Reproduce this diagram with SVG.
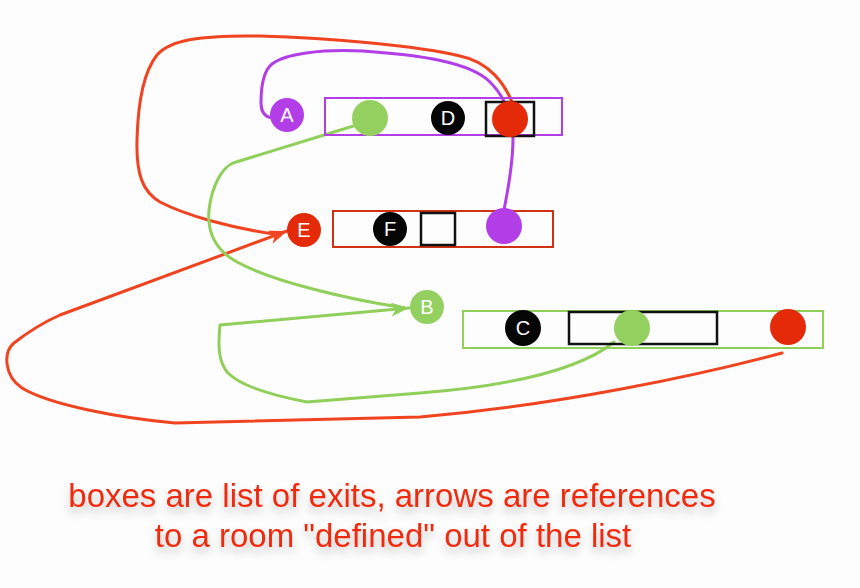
<svg xmlns="http://www.w3.org/2000/svg" width="860" height="588" viewBox="0 0 860 588">
  <defs>
    <marker id="arrRed" viewBox="0 0 18 14" refX="18" refY="7" markerWidth="18" markerHeight="14" markerUnits="userSpaceOnUse" orient="auto">
      <path d="M0,0 L18,7 L0,14 L5,7 z" fill="#f04420"/>
    </marker>
    <marker id="arrGreen" viewBox="0 0 18 14" refX="18" refY="7" markerWidth="18" markerHeight="14" markerUnits="userSpaceOnUse" orient="auto">
      <path d="M0,0 L18,7 L0,14 L5,7 z" fill="#8fcf5a"/>
    </marker>
    <filter id="shadow" x="-10%" y="-30%" width="120%" height="180%">
      <feDropShadow dx="0" dy="6" stdDeviation="4" flood-color="#000" flood-opacity="0.22"/>
    </filter>
  </defs>
  <style>
    .line { fill: none; stroke-width: 3; stroke-linecap: round; stroke-linejoin: round; }
    .red { stroke: #f04420; }
    .purple { stroke: #b33ee8; }
    .green { stroke: #8fcf5a; }
    .lbl { font-family: "Liberation Sans", Arial, sans-serif; font-size: 20px; fill: #ffffff; text-anchor: middle; }
    .box { fill: none; stroke-width: 2; }
    .slot { fill: none; stroke: #111; stroke-width: 2.5; }
    .caption { font-family: "Liberation Sans", Arial, sans-serif; font-size: 33px; fill: #f02a10; text-anchor: middle; }
  </style>
  <rect x="0" y="0" width="860" height="588" fill="#fdfdfd"/>

  <g id="connectors">
    <!-- red from top box to E -->
    <path class="line red" d="M 512,102 C 505,85 490,62 460,56 C 420,46 330,38 260,36 C 200,35 170,40 157,55 C 145,70 138,100 137,140 C 136,175 143,192 160,202 C 185,215 230,228 280,235"/>
    <!-- red from C box to E -->
    <path class="line red" d="M 782,353 C 700,375 560,405 420,417 L 175,423 C 120,418 50,405 22,388 C 4,376 3,352 14,343 C 28,332 42,323 60,315 L 287,231" marker-end="url(#arrRed)"/>
    <!-- purple from E box to A -->
    <path class="line purple" d="M 504,210 C 508,190 513,160 513,138 C 512,115 505,97 490,82 C 470,62 420,55 363,51 C 320,49 285,54 272,64 C 262,72 261,90 261,103 C 261,112 265,117 272,118"/>
    <!-- green from top box to B -->
    <path class="line green" d="M 360,124 L 233,163 C 222,168 212,185 209,210 C 207,232 215,250 237,262 C 270,280 340,298 405,308"/>
    <!-- green from C box to B -->
    <path class="line green" d="M 614,342 C 582,368 520,385 420,393 L 307,402 C 270,395 240,385 228,373 C 218,362 218,345 220,325 L 409,308" marker-end="url(#arrGreen)"/>
  </g>

  <g id="node-A">
    <circle cx="287" cy="115" r="17" fill="#b33ee8"/>
    <text class="lbl" x="287" y="122">A</text>
  </g>
  <g id="box-top">
    <rect class="box" x="325" y="98" width="237" height="37" stroke="#b33ee8"/>
    <circle cx="370" cy="118" r="18" fill="#93d060"/>
    <circle cx="448" cy="118" r="17" fill="#050505"/>
    <text class="lbl" x="448" y="125">D</text>
    <rect class="slot" x="486" y="102" width="48" height="34"/>
    <circle cx="510" cy="119" r="18" fill="#e42a08"/>
  </g>

  <g id="node-E">
    <circle cx="304" cy="230" r="17" fill="#e42a08"/>
    <text class="lbl" x="304" y="237">E</text>
  </g>
  <g id="box-E">
    <rect class="box" x="333" y="211" width="220" height="36" stroke="#d03214"/>
    <circle cx="390" cy="229" r="17" fill="#050505"/>
    <text class="lbl" x="390" y="236">F</text>
    <rect class="slot" x="421" y="213" width="34" height="32"/>
    <circle cx="504" cy="226" r="18" fill="#b33ee8"/>
  </g>

  <g id="node-B">
    <circle cx="427" cy="307" r="17" fill="#93d060"/>
    <text class="lbl" x="427" y="314">B</text>
  </g>
  <g id="box-B">
    <rect class="box" x="463" y="311" width="360" height="37" stroke="#8fcf5a"/>
    <circle cx="523" cy="328" r="18" fill="#050505"/>
    <text class="lbl" x="523" y="335">C</text>
    <rect class="slot" x="569" y="312" width="148" height="32"/>
    <circle cx="632" cy="328" r="18" fill="#93d060"/>
    <circle cx="788" cy="327" r="18" fill="#e42a08"/>
  </g>

  <g id="caption" filter="url(#shadow)">
    <text class="caption" x="392" y="507">boxes are list of exits, arrows are references</text>
    <text class="caption" x="393" y="547">to a room "defined" out of the list</text>
  </g>
</svg>
